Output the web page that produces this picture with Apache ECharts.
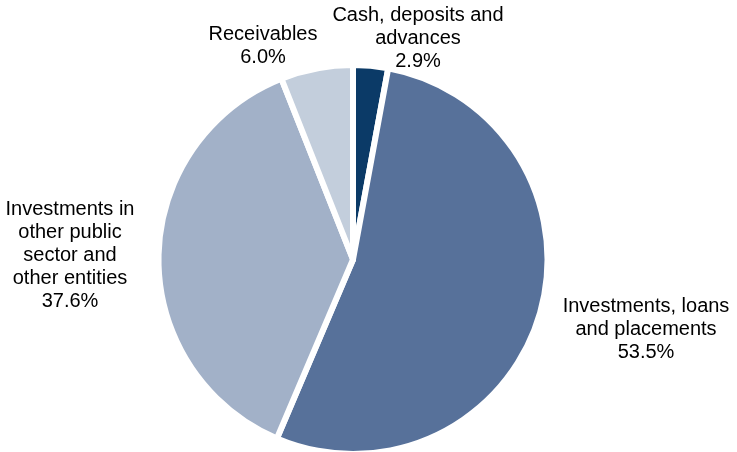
<!DOCTYPE html>
<html>
<head>
<meta charset="utf-8">
<script src="https://cdn.jsdelivr.net/npm/echarts@6/dist/echarts.min.js"></script>
<style>
  html, body { margin: 0; padding: 0; background: #ffffff; }
  #chart { width: 737px; height: 452px; }
</style>
</head>
<body>
<div id="chart"></div>
<script>
// Asset composition by category (percent of total)
const categories = [
  'Cash, deposits and\nadvances',
  'Investments, loans\nand placements',
  'Investments in\nother public\nsector and\nother entities',
  'Receivables'
];
const shares = [2.9, 53.5, 37.6, 6.0];
const colors = ['#0b3a67', '#57719a', '#a2b1c8', '#c3cedc'];

// Label anchor points (label centre x, top y) for each slice
const labelAnchors = [
  [418, 4],
  [646, 295],
  [70, 198],
  [263, 23]
];

const chart = echarts.init(document.getElementById('chart'), null, { renderer: 'canvas' });

chart.setOption({
  animation: false,
  backgroundColor: '#ffffff',
  series: [{
    type: 'pie',
    center: [353, 259.5],
    radius: [0, 194.5],
    startAngle: 90,
    clockwise: true,
    data: categories.map((name, i) => ({
      name: name,
      value: shares[i],
      itemStyle: { color: colors[i] }
    })),
    itemStyle: { borderColor: '#ffffff', borderWidth: 6 },
    label: {
      show: true,
      position: 'outside',
      formatter: p => p.name + '\n' + p.value.toFixed(1) + '%',
      fontFamily: 'Liberation Sans, Arial, sans-serif',
      fontSize: 20,
      lineHeight: 23,
      color: '#000000',
      align: 'center',
      overflow: 'none',
      edgeDistance: 0
    },
    labelLine: { show: false },
    labelLayout: function (params) {
      const a = labelAnchors[params.dataIndex];
      return {
        x: a[0],
        y: a[1],
        align: 'center',
        verticalAlign: 'top',
        moveOverlap: false
      };
    },
    emphasis: { disabled: true }
  }]
});
</script>
</body>
</html>
